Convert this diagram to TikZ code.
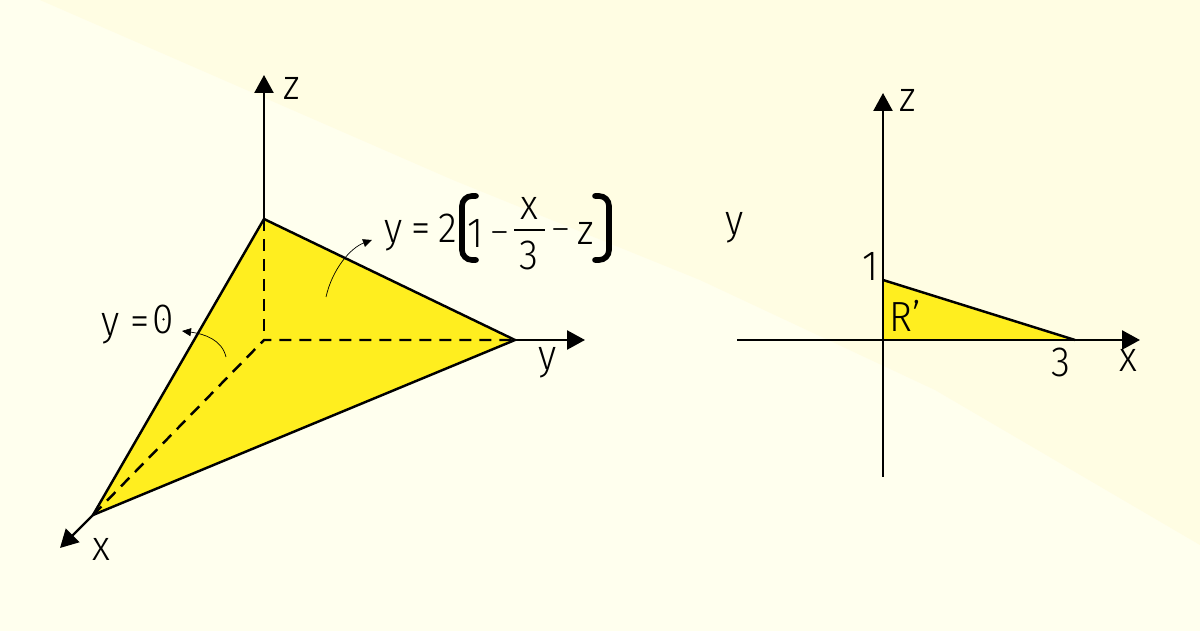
\documentclass[tikz,border=0pt]{standalone}
\usepackage{fontspec}
\setmainfont[FakeStretch=.92]{Fira Sans Light}
\usepackage{tikz}
\usetikzlibrary{arrows.meta}
\definecolor{bglight}{HTML}{FFFFEE}
\definecolor{bgdark}{HTML}{FFFDE3}
\definecolor{planeyellow}{HTML}{FFEE1F}
\newcommand{\shortdash}{\raisebox{.09em}{\fontsize{20}{20}\selectfont –}}
\tikzset{
	axis/.style={line width=1.4pt, -{Triangle[length=.36cm,width=.38cm]}},
	edge/.style={line width=1.4pt},
	hidden/.style={line width=1.4pt, dash pattern=on .24cm off .16cm},
	pointer/.style={line width=.4pt, -{Triangle[length=.18cm,width=.16cm]}},
	lbl/.style={font=\fontsize{24}{26}\selectfont, inner sep=0pt},
	brace/.style={line width=3.2pt, rounded corners=.2cm, line cap=round}
}
\begin{document}
\begin{tikzpicture}
	\useasboundingbox (0,0) rectangle (24,12.62);
	\fill[bglight] (0,0) rectangle (24,12.62);
	\fill[bgdark] (.8,12.62) to (9.06,9.02) to (14,7.02) to (18.7,4.82) to (24,1.72) to (24,12.62) to (.8,12.62);

	% left picture
	\coordinate (o3d) at (5.28,5.82);
	\coordinate (apexz) at (5.28,8.24);
	\coordinate (apexy) at (10.3,5.82);
	\coordinate (apexx) at (1.86,2.32);
	\coordinate (endz) at (5.28,11.12);
	\coordinate (endy) at (11.7,5.82);
	\coordinate (endx) at (1.2,1.66);

	\path [fill=planeyellow] (apexz) to (apexy) to (apexx) to (apexz);
	\draw[hidden] (apexz)--(o3d);
	\draw[hidden] (apexx)--(o3d)--(apexy);
	\draw[edge] (apexz)--(apexy)--(apexx)--cycle;
	\draw[axis] (apexz)--(endz);
	\draw[axis] (apexy)--(endy);
	\draw[axis] (apexx)--(endx);

	\node[lbl] (labz) at (5.84,10.85) {z};
	\node[lbl] (laby) at (10.96,5.36) {y};
	\node[lbl] (labx) at (2.02,1.64) {x};

	% curved pointers
	\coordinate (startzero) at (4.52,5.48);
	\coordinate (tipzero) at (3.64,6.0);
	\coordinate (startplane) at (6.52,6.68);
	\coordinate (tipplane) at (7.44,7.82);
	\draw[pointer] (startzero) .. controls (4.44,5.82) and (4.1,5.94) .. (tipzero);
	\draw[pointer] (startplane) .. controls (6.64,7.22) and (7,7.66) .. (tipplane);

	\node[lbl] (eqzero) at (2.52,6.05) {y =};
	\node[lbl] (zero) at (3.27,6.23) {0};
	\fill (zero.center) circle (.025);

	% plane equation
	\node[lbl] (eqleft) at (8.42,7.96) {y\hspace{.2em}=\hspace{.2em}2};
	\node[lbl] (eqone) at (9.76,7.96) {1\hspace{.2em}\shortdash};
	\node[lbl] (eqnum) at (10.58,8.46) {x};
	\node[lbl] (eqden) at (10.58,7.52) {3};
	\node[lbl] (eqright) at (11.47,7.96) {\shortdash\hspace{.2em}z};
	\coordinate (barl) at (10.28,8.02);
	\coordinate (barr) at (10.9,8.02);
	\draw[line width=1.2pt] (barl)--(barr);
	\coordinate (lb1) at (9.52,8.7);
	\coordinate (lb2) at (9.24,8.7);
	\coordinate (lb3) at (9.24,7.42);
	\coordinate (lb4) at (9.52,7.42);
	\coordinate (rb1) at (11.9,8.7);
	\coordinate (rb2) at (12.18,8.7);
	\coordinate (rb3) at (12.18,7.42);
	\coordinate (rb4) at (11.9,7.42);
	\draw[brace] (lb1)--(lb2)--(lb3)--(lb4);
	\draw[brace] (rb1)--(rb2)--(rb3)--(rb4);

	% right picture
	\coordinate (o2d) at (17.66,5.82);
	\coordinate (top2d) at (17.66,7.02);
	\coordinate (three2d) at (21.5,5.82);
	\coordinate (startz) at (17.66,3.08);
	\coordinate (tipz) at (17.66,10.76);
	\coordinate (startx) at (14.74,5.82);
	\coordinate (tipx) at (22.8,5.82);

	\path [fill=planeyellow] (o2d) to (three2d) to (top2d) to (o2d);
	\draw[edge] (top2d)--(three2d);
	\draw[axis] (startz)--(tipz);
	\draw[axis] (startx)--(tipx);

	\node[lbl] (rightz) at (18.16,10.62) {z};
	\node[lbl] (righty) at (14.7,8.06) {y};
	\node[lbl] (rightone) at (17.4,7.3) {1};
	\node[lbl] (rightr) at (18.1,6.3) {R’};
	\node[lbl] (rightthree) at (21.22,5.38) {3};
	\node[lbl] (rightx) at (22.56,5.42) {x};
\end{tikzpicture}
\end{document}
